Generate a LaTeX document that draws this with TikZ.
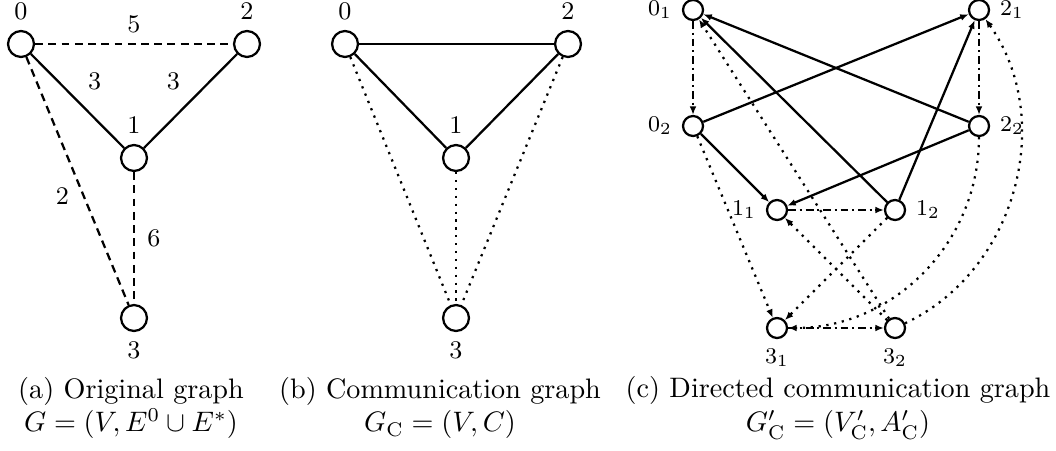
\documentclass[tikz,border=0pt]{standalone}
\usetikzlibrary{arrows.meta}

\begin{document}
\begin{tikzpicture}[
  x=0.355pt, y=-0.355pt,
  vertex/.style={draw, circle, thick, minimum size=9.2pt, inner sep=0pt},
  dvertex/.style={draw, circle, thick, minimum size=7.1pt, inner sep=0pt},
  every label/.style={font=\small},
  elabel/.style={font=\small},
  dlabel/.style={font=\footnotesize},
  edge/.style={thick},
  newedge/.style={thick, dash pattern=on 2.8pt off 1.9pt},
  commedge/.style={thick, dotted},
  arrow/.style={-{Latex[length=3pt, width=2.4pt]}, thick},
  ownarc/.style={arrow, dash pattern=on 2.8pt off 1.3pt on \pgflinewidth off 1.3pt},
  caption/.style={align=center, inner sep=1pt}
]
\useasboundingbox (0,0) rectangle (1056,450);

% (a) original graph
\node[vertex, label=above:0] (a0) at (21,44) {};
\node[vertex, label=above:2] (a2) at (247,44) {};
\node[vertex, label=above:1] (a1) at (134,158) {};
\node[vertex, label=below:3] (a3) at (134,318) {};
\draw[newedge] (a0) -- node[elabel, above] {5} (a2);
\draw[edge] (a0) -- node[elabel, above right] {3} (a1);
\draw[edge] (a1) -- node[elabel, above left] {3} (a2);
\draw[newedge] (a0) -- node[elabel, pos=0.56, left=1.5pt] {2} (a3);
\draw[newedge] (a1) -- node[elabel, right=1pt] {6} (a3);

% (b) communication graph
\node[vertex, label=above:0] (b0) at (345,44) {};
\node[vertex, label=above:2] (b2) at (568,44) {};
\node[vertex, label=above:1] (b1) at (456,158) {};
\node[vertex, label=below:3] (b3) at (456,318) {};
\draw[edge] (b0) -- (b2);
\draw[edge] (b0) -- (b1);
\draw[edge] (b1) -- (b2);
\draw[commedge] (b0) -- (b3);
\draw[commedge] (b1) -- (b3);
\draw[commedge] (b2) -- (b3);

% (c) directed communication graph
\node[dvertex, label={[dlabel]left:$0_1$}] (c01) at (693,10) {};
\node[dvertex, label={[dlabel]right:$2_1$}] (c21) at (979,10) {};
\node[dvertex, label={[dlabel]left:$0_2$}] (c02) at (693,126) {};
\node[dvertex, label={[dlabel]right:$2_2$}] (c22) at (979,126) {};
\node[dvertex, label={[dlabel]left:$1_1$}] (c11) at (777,210) {};
\node[dvertex, label={[dlabel]right:$1_2$}] (c12) at (895,210) {};
\node[dvertex, label={[dlabel]below:$3_1$}] (c31) at (777,328) {};
\node[dvertex, label={[dlabel]below:$3_2$}] (c32) at (895,328) {};
\draw[ownarc] (c01) -- (c02);
\draw[ownarc] (c21) -- (c22);
\draw[ownarc] (c11) -- (c12);
\draw[ownarc] (c31) -- (c32);
\draw[arrow] (c02) -- (c21);
\draw[arrow] (c02) -- (c11);
\draw[arrow] (c22) -- (c01);
\draw[arrow] (c22) -- (c11);
\draw[arrow] (c12) -- (c01);
\draw[arrow] (c12) -- (c21);
\draw[arrow, dotted] (c32) -- (c01);
\draw[arrow, dotted] (c02) -- (c31);
\draw[arrow, dotted] (c12) -- (c31);
\draw[arrow, dotted] (c32) -- (c11);
\draw[arrow, dotted] (c22) to[bend left=45] (c31);
\draw[arrow, dotted] (c32) to[bend right=50] (c21);

% captions
\node[caption] (capa) at (131,408) {(a) Original graph\\ $G=(V,E^0\cup E^*)$};
\node[caption] (capb) at (440,408) {(b) Communication graph\\ $G_\mathrm{C}=(V,C)$};
\node[caption] (capc) at (838,408) {(c) Directed communication graph\\ $G'_\mathrm{C}=(V'_\mathrm{C},A'_\mathrm{C})$};
\end{tikzpicture}
\end{document}
